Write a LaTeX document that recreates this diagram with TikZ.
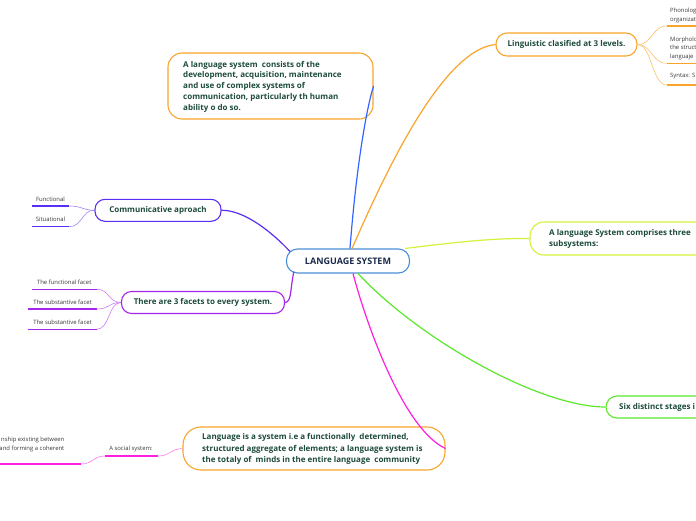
\documentclass[tikz,border=0pt]{standalone}
\usepackage{fontspec}
\setmainfont{Open Sans}
\usetikzlibrary{calc}
\definecolor{orng}{HTML}{F9A52B}
\definecolor{bconn}{HTML}{3366FF}
\definecolor{cborder}{HTML}{4A8FD8}
\definecolor{ygreen}{HTML}{D5F23A}
\definecolor{grn}{HTML}{5BE82C}
\definecolor{mag}{HTML}{FF1FE0}
\definecolor{cblue}{HTML}{5B2EF5}
\definecolor{purp}{HTML}{A526EE}
\definecolor{tgreen}{HTML}{1D4B3C}
\definecolor{navy}{HTML}{1B2B4B}
\definecolor{sgray}{HTML}{3A3A3A}
\begin{document}
\begin{tikzpicture}[x=1pt,y=-1pt,
  box/.style={draw, line width=1.1pt, fill=white, inner sep=0pt},
  mtext/.style={font=\fontsize{8}{10.8}\selectfont\bfseries, text=tgreen, align=left, inner sep=0pt},
  ctext/.style={font=\fontsize{8}{10.8}\selectfont\bfseries, text=tgreen},
  stext/.style={font=\fontsize{5.9}{8.8}\selectfont, text=sgray, inner sep=0pt},
  conn/.style={line width=1.2pt},
  sub/.style={line width=0.6pt},
  uline/.style={line width=1.4pt}]
\useasboundingbox (0,0) rectangle (696,520);
\fill[white] (0,0) rectangle (696,520);
\begin{scope}
\clip (0,0) rectangle (696,520);

% central
\node[box, draw=cborder, rounded corners=11pt, minimum width=123, minimum height=24,
  font=\fontsize{9}{11}\selectfont\bfseries, text=navy] (ls) at (348,261) {LANGUAGE SYSTEM};

% top-left definition
\node[box, draw=orng, rounded corners=14pt, minimum width=205, minimum height=66] (A) at (270.5,86) {};
\node[mtext, anchor=west] (At) at (183,86.5) {A language system\ \ consists of the\\development, acquisition, maintenance\\and use of complex systems of\\communication, particularly th human\\ability o do so.};

% linguistic
\node[box, draw=orng, rounded corners=11pt, minimum width=141, minimum height=23, ctext] (L) at (566.5,44.5) {Linguistic clasified at 3 levels.};

% yellow
\node[box, draw=ygreen, rounded corners=14pt, minimum width=190, minimum height=33] (Y) at (625,238.5) {};
\node[mtext, anchor=west] (Yt) at (549,239) {A language System comprises three\\subsystems:};

% six
\node[box, draw=grn, rounded corners=11pt, minimum width=100, minimum height=22] (S) at (656,407) {};
\node[mtext, anchor=west] (St) at (619,407.5) {Six distinct stages i};

% language is a system
\node[box, draw=orng, rounded corners=18pt, minimum width=262, minimum height=43] (G) at (314,448.5) {};
\node[mtext, anchor=west, font=\fontsize{8}{11.7}\selectfont\bfseries] (Gt) at (202,449) {Language is a system i.e a functionally\ \ determined,\\structured aggregate of elements; a language system is\\the totaly of\ \ minds in the entire language\ \ community};

% communicative
\node[box, draw=cblue, rounded corners=10pt, minimum width=126, minimum height=22, ctext] (C) at (158,210.3) {Communicative aproach};

% facets
\node[box, draw=purp, rounded corners=10pt, minimum width=163, minimum height=22, ctext] (F) at (203,302.5) {There are 3 facets to every system.};

% main connectors
\draw[conn, bconn] ($(ls.north)+(2,0)$) .. controls (356,170) and (366,110) .. (A.east);
\draw[conn, orng] ($(ls.north)+(4,0)$) .. controls (380,185) and (440,50) .. (L.west);
\draw[conn, ygreen] ($(ls.north east)+(-5,0)$) .. controls (450,243) and (490,238) .. (Y.west);
\draw[conn, grn] ($(ls.south)+(10,0)$) .. controls (420,340) and (540,407) .. (S.west);
\draw[conn, mag] ($(ls.south)+(5,0)$) .. controls (368,330) and (405,430) .. (G.east);
\draw[conn, cblue] ($(ls.north west)+(4,3)$) .. controls (265,225) and (240,210) .. (C.east);
\draw[conn, purp] ($(ls.south west)+(8,-2)$) .. controls (290,288) and (292,302) .. (F.east);

% communicative children
\coordinate (cf) at (69.3,206);
\coordinate (cs) at (69.3,226.7);
\draw[sub, cblue!60] (C.west) .. controls (82,210) and (82,206) .. (cf);
\draw[sub, cblue!60] (C.west) .. controls (82,210) and (82,226.7) .. (cs);
\draw[uline, cblue] (cf) -- (31.7,206);
\draw[uline, cblue] (cs) -- (31.7,226.7);
\node[stext] (cft) at (50.5,199.5) {Functional};
\node[stext] (cst) at (50.5,219.5) {Situational};

% facets children
\coordinate (f1) at (96.7,289.3);
\coordinate (f2) at (96.7,309);
\coordinate (f3) at (96.7,329.3);
\draw[sub, purp!60] (F.west) .. controls (108,302.5) and (110,289.3) .. (f1);
\draw[sub, purp!60] (F.west) .. controls (108,302.5) and (110,309) .. (f2);
\draw[sub, purp!60] (F.west) .. controls (108,302.5) and (110,329.3) .. (f3);
\draw[uline, purp] (f1) -- (31.7,289.3);
\draw[uline, purp] (f2) -- (28.3,309);
\draw[uline, purp] (f3) -- (28.3,329.3);
\node[stext] (f1t) at (64.2,282) {The functional facet};
\node[stext] (f2t) at (62.5,302) {The substantive facet};
\node[stext] (f3t) at (62.5,322) {The substantive facet};

% linguistic children
\coordinate (l1) at (666.7,26);
\coordinate (l2) at (666.7,63.3);
\coordinate (l3) at (666.7,85);
\draw[sub, orng!70] (L.east) .. controls (652,45) and (652,26) .. (l1);
\draw[sub, orng!70] (L.east) .. controls (652,45) and (652,63.3) .. (l2);
\draw[sub, orng!70] (L.east) .. controls (652,45) and (652,85) .. (l3);
\draw[uline, orng] (l1) -- (720,26);
\draw[uline, orng] (l2) -- (720,63.3);
\draw[uline, orng] (l3) -- (720,85);
\node[stext, anchor=west, align=left] (l1t) at (670,15.3) {Phonolog\\organizat};
\node[stext, anchor=west, align=left] (l2t) at (670,48.3) {Morpholo\\the struct\\languaje};
\node[stext, anchor=west] (l3t) at (670,76) {Syntax: S};

% social children
\coordinate (s1) at (158.3,456);
\coordinate (s1l) at (105,456);
\coordinate (s2) at (81,464);
\draw[sub, mag!60] (G.west) .. controls (170,449) and (170,456) .. (s1);
\draw[uline, mag] (s1) -- (s1l);
\draw[sub, mag!60] (s1l) .. controls (93,456) and (93,464) .. (s2);
\draw[uline, mag] (s2) -- (-10,464);
\node[stext] (s1t) at (131,449) {A social system:};
\node[stext, anchor=east, align=right] (s2t) at (64.5,444.5) {nship existing between\\and forming a coherent};
\end{scope}
\end{tikzpicture}
\end{document}
